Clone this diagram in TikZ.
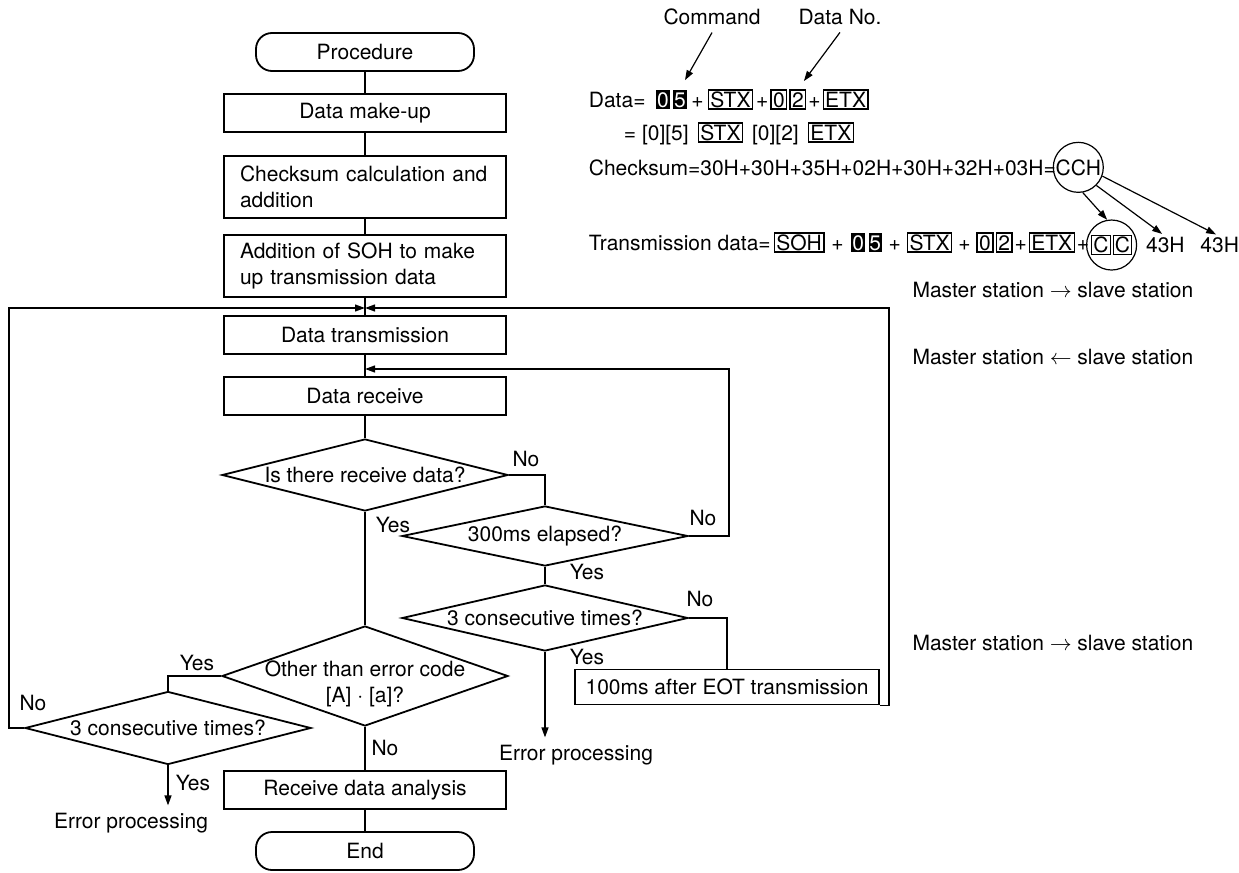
\documentclass[tikz,border=0pt]{standalone}
\usepackage{fontspec}
\setmainfont{TeX Gyre Heros}
\usetikzlibrary{arrows.meta,shapes.geometric,positioning}
\tikzset {
  >={Triangle[length=5pt,width=3.4pt]},
  every node/.style={font=\fontsize{10.5}{13}\selectfont},
}
\newcommand{\ccbox}[1]{{\setlength{\fboxsep}{0.6pt}\setlength{\fboxrule}{0.5pt}\fbox{#1}}}

\begin{document}
\begin{tikzpicture}[x=0.5pt,y=-0.5pt,line width=0.9pt,
    term/.style={draw,rounded corners=8pt,minimum width=109pt,minimum height=19pt},
    procbox/.style={draw,minimum width=141pt,minimum height=19pt},
    tbox/.style={draw,text width=125pt,align=left,inner xsep=8pt,minimum height=31pt},
    decision/.style={diamond,draw,inner sep=0pt,minimum width=143pt},
    blk/.style={fill=black,text=white,inner xsep=0.4pt,inner ysep=1pt,text height=7.6pt,text depth=0pt},
    frm/.style={draw,line width=0.7pt,inner xsep=1pt,inner ysep=1pt,text height=7.6pt,text depth=0pt},
    thin/.style={line width=0.6pt}]
  \useasboundingbox (0,0) rectangle (1239,873);

  % flow chart
  \node[term] (start) at (365,52) {Procedure};
  \node[procbox] (makeup) at (365,113) {Data make-up};
  \node[tbox] (csum) at (365,187) {Checksum calculation and\\addition};
  \node[tbox] (addsoh) at (365,266) {Addition of SOH to make\\up transmission data};
  \coordinate (merge) at (365,308);
  \node[procbox] (xmit) at (365,335) {Data transmission};
  \coordinate (back) at (365,369);
  \node[procbox] (recv) at (365,396) {Data receive};
  \node[decision,minimum height=36pt] (isdata) at (365,475) {\makebox[0pt]{Is there receive data?}};
  \node[decision,minimum height=30pt] (elapsed) at (545,536) {\makebox[0pt]{300ms elapsed?}};
  \node[decision,minimum height=33pt] (retry) at (545,618) {\makebox[0pt]{3 consecutive times?}};
  \node[draw,minimum width=152pt,minimum height=17.5pt] (eot) at (727,687) {100ms after EOT transmission};
  \node[decision,minimum height=50pt] (errcode) at (365,676)
    {\makebox[0pt]{\raisebox{-7pt}[0pt][0pt]{\begin{tabular}{@{}c@{}}Other than error code\\ {[A]} · {[a]}?\end{tabular}}}};
  \node[decision,minimum height=36.5pt] (retryb) at (168,728) {\makebox[0pt]{3 consecutive times?}};
  \node[procbox] (analysis) at (365,790) {Receive data analysis};
  \node[term] (stop) at (365,851) {End};
  \node (errA) at (576,755) {Error processing};
  \node (errB) at (131,823) {Error processing};

  \draw (start) -- (makeup);
  \draw (makeup) -- (csum);
  \draw (csum) -- (addsoh);
  \draw (addsoh) -- (xmit);
  \draw (xmit) -- (recv);
  \draw (recv) -- (isdata);
  \draw (isdata) -- (errcode);
  \draw (isdata.east) -| (elapsed.north);
  \draw[->] (elapsed.east) -- ++(40,0) |- (back);
  \draw (elapsed) -- (retry);
  \draw (retry.east) -| (eot.north);
  \draw[->] (retry) -- (retry |- errA.north);
  \draw[->] (eot.south east) -- ++(9,0) |- (merge);
  \draw (errcode.west) -| (retryb.north);
  \draw[->] (retryb.west) -- ++(-15,0) |- (merge);
  \draw[->] (retryb) -- (retryb |- errB.north);
  \draw (errcode) -- (analysis);
  \draw (analysis) -- (stop);

  \node (noA) at (526,459) {No};
  \node (yesA) at (393,525) {Yes};
  \node (noB) at (703,518) {No};
  \node (yesB) at (587,572) {Yes};
  \node (noC) at (700,599) {No};
  \node (yesC) at (587,657) {Yes};
  \node (yesD) at (197,663) {Yes};
  \node (noD) at (385,748) {No};
  \node (noE) at (33,703) {No};
  \node (yesE) at (193,783) {Yes};

  % data frame
  \node (cmd) at (712,17) {Command};
  \node (dno) at (840,17) {Data No.};
  \node[anchor=base west,inner sep=0pt] (dlbl) at (588,107) {Data=};
  \node[blk,base right=4.5pt of dlbl] (d0) {0};
  \node[blk,base right=1pt of d0] (d5) {5};
  \node[inner sep=0pt,base right=1.5pt of d5] (dp1) {+};
  \node[frm,base right=1.5pt of dp1] (dstx) {STX};
  \node[inner sep=0pt,base right=1pt of dstx] (dp2) {+};
  \node[frm,base right=0.5pt of dp2] (dz) {0};
  \node[frm,base right=1pt of dz] (dtwo) {2};
  \node[inner sep=0pt,base right=0.5pt of dtwo] (dp3) {+};
  \node[frm,base right=0.5pt of dp3] (detx) {ETX};
  \draw[->,thin,shorten >=5pt] (cmd.south) -- (d5.north);
  \draw[->,thin,shorten >=5pt] (dno.south) -- (dtwo.north);

  \node[anchor=base west,inner sep=0pt] (e0) at (623,140) {= [0][5]};
  \node[frm,base right=4pt of e0] (estx) {STX};
  \node[inner sep=0pt,base right=4pt of estx] (e2) {[0][2]};
  \node[frm,base right=4pt of e2] (eetx) {ETX};

  \node[anchor=base west,inner sep=0pt] (cs) at (588,175) {Checksum=30H+30H+35H+02H+30H+32H+03H=};
  \node[circle,draw,thin,inner sep=0.4pt,right=-2pt of cs] (cch) {CCH};

  \node[anchor=base west,inner sep=0pt] (tx) at (588,250) {Transmission data=};
  \node[frm,base right=1pt of tx] (tsoh) {SOH};
  \node[inner sep=0pt,base right=3pt of tsoh] (tp1) {+};
  \node[blk,base right=3pt of tp1] (t0) {0};
  \node[blk,base right=1pt of t0] (t5) {5};
  \node[inner sep=0pt,base right=2.5pt of t5] (tp2) {+};
  \node[frm,base right=2.5pt of tp2] (tstx) {STX};
  \node[inner sep=0pt,base right=2.5pt of tstx] (tp3) {+};
  \node[frm,base right=2.5pt of tp3] (tz) {0};
  \node[frm,base right=1pt of tz] (ttwo) {2};
  \node[inner sep=0pt,base right=0.5pt of ttwo] (tp4) {+};
  \node[frm,base right=0.5pt of tp4] (tetx) {ETX};
  \node[inner sep=0pt,base right=0.5pt of tetx] (tp5) {+};
  \node[circle,draw,thin,inner sep=0pt,minimum size=25pt,right=-2pt of tp5] (tcc) {\ccbox{C}\kern1pt\ccbox{C}};
  \node[inner sep=0pt,right=4pt of tcc] (h1) {43H};
  \node[inner sep=0pt,right=7pt of h1] (h2) {43H};
  \draw[->,thin] (cch.-80) -- (tcc.100);
  \draw[->,thin,shorten >=2pt] (cch.-45) -- (h1.north);
  \draw[->,thin,shorten >=2pt] (cch.-20) -- (h2.north);

  \node[anchor=west] (ms1) at (905,290) {Master station $\rightarrow$ slave station};
  \node[anchor=west] (ms2) at (905,357) {Master station $\leftarrow$ slave station};
  \node[anchor=west] (ms3) at (905,643) {Master station $\rightarrow$ slave station};
\end{tikzpicture}
\end{document}
